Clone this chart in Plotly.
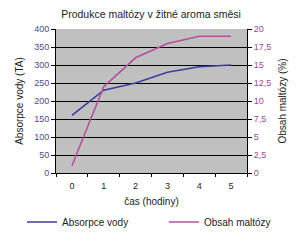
import plotly.graph_objects as go

hours = ["0", "1", "2", "3", "4", "5"]
absorpce = [160, 230, 250, 280, 295, 300]
maltoza = [1, 12, 16, 18, 19, 19]
left_ticks = [0, 50, 100, 150, 200, 250, 300, 350, 400]
right_ticks = [0, 2.5, 5, 7.5, 10, 12.5, 15, 17.5, 20]
right_labels = ["0", "2,5", "5", "7,5", "10", "12,5", "15", "17,5", "20"]

blue = "#3c3c9c"
pink = "#b4509c"
font = "Liberation Sans, Arial, sans-serif"

fig = go.Figure()
fig.add_trace(go.Scatter(x=hours, y=absorpce, mode="lines", name="Absorpce vody",
                         line=dict(color=blue, width=1.6), yaxis="y", legend="legend"))
fig.add_trace(go.Scatter(x=hours, y=maltoza, mode="lines", name="Obsah maltózy",
                         line=dict(color=pink, width=1.6), yaxis="y2", legend="legend2"))

leg_common = dict(orientation="h", xanchor="left", y=-0.34, yanchor="middle",
                  font=dict(size=10, color="#222"), itemwidth=30, bgcolor="rgba(0,0,0,0)")

fig.update_layout(
    width=302, height=243,
    margin=dict(l=56, r=55, t=29, b=70, autoexpand=False),
    paper_bgcolor="white", plot_bgcolor="#c0c0c0",
    font=dict(family=font, size=9, color="black"),
    title=dict(text="Produkce maltózy v žitné aroma směsi", x=0.5, xanchor="center",
               y=1 - 14/243, yanchor="middle", font=dict(size=10.5, color="#222")),
    showlegend=True,
    legend=dict(x=-0.178, **leg_common),
    legend2=dict(x=0.565, **leg_common),
    xaxis=dict(type="category", range=[-0.5, 5.5], tickson="boundaries", ticks="outside",
               ticklen=3, tickcolor="black", showline=True, linecolor="black", linewidth=1,
               showgrid=False, tickfont=dict(size=9, color="#222"), ticklabelstandoff=4,
               title=dict(text="čas (hodiny)", font=dict(size=10, color="#222"), standoff=8)),
    yaxis=dict(range=[0, 400], tickvals=left_ticks, ticks="outside", ticklen=4,
               tickcolor="black", showline=True, linecolor="black", linewidth=1,
               showgrid=True, gridcolor="black", gridwidth=1, zeroline=False,
               tickfont=dict(size=9, color="#4a4a8a"),
               title=dict(text="Absorpce vody (TA)", font=dict(size=10, color="#222"), standoff=8)),
    yaxis2=dict(range=[0, 20], tickvals=right_ticks, ticktext=right_labels, overlaying="y",
                side="right", ticks="outside", ticklen=4, tickcolor="black",
                showline=True, linecolor="black", linewidth=1, showgrid=False, zeroline=False,
                tickfont=dict(size=9, color="#9a4a8a"),
                title=dict(text="Obsah maltózy (%)", font=dict(size=10, color="#222"), standoff=8)),
)

fig.write_html("out.html")
